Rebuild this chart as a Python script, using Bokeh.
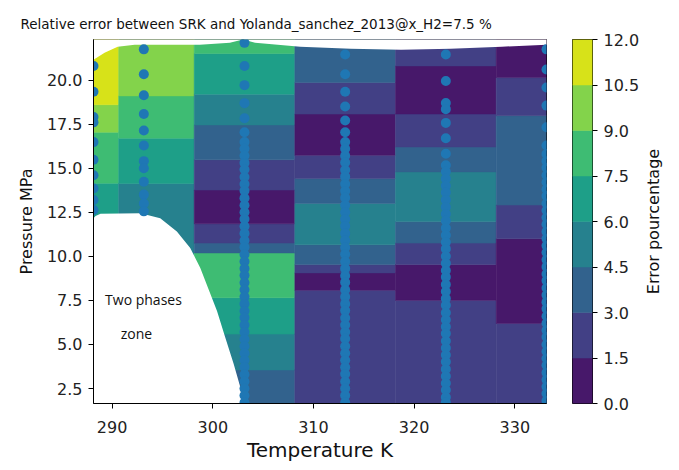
import math
import numpy as np
from bokeh.plotting import figure
from bokeh.models import ColumnDataSource, FixedTicker, Range1d, PrintfTickFormatter, Label
from bokeh.core.properties import value
from bokeh.layouts import row
from bokeh.palettes import Viridis256
from bokeh.embed import file_html
from bokeh.resources import INLINE

# ---------------- data ----------------
title_text = "Relative error between SRK and Yolanda_sanchez_2013@x_H2=7.5 %"
levels = [0.0, 1.5, 3.0, 4.5, 6.0, 7.5, 9.0, 10.5, 12.0]
x_ticks = [290, 300, 310, 320, 330]
y_ticks = [2.5, 5.0, 7.5, 10.0, 12.5, 15.0, 17.5, 20.0]

temperatures = [288.15, 293.15, 303.15, 313.15, 323.15, 333.15]
p_lo, p_hi = 1.65, 22.3

# error bands per temperature column (inner pressure boundaries, bottom -> top)
band_edges_288 = [14.15, 17.04, 18.6]
band_err_288 = [6.8, 8.3, 9.7, 11.2]
band_edges_293 = [14.13, 16.7, 19.1]
band_err_293 = [5.3, 6.9, 8.1, 9.9]
band_edges_303 = [3.55, 5.59, 7.65, 10.19, 10.75, 11.85, 13.76, 15.48, 17.45, 19.2, 21.5]
band_err_303 = [3.9, 5.2, 6.6, 8.4, 4.0, 2.4, 1.0, 2.6, 3.7, 5.0, 6.8, 7.8]
band_edges_313 = [8.07, 9.06, 9.53, 10.66, 13.0, 14.41, 15.73, 18.07, 19.86]
band_err_313 = [2.3, 0.8, 2.1, 3.6, 5.4, 4.1, 2.7, 1.1, 2.5, 3.4]
band_edges_323 = [7.5, 9.53, 10.75, 11.97, 14.79, 16.2, 18.07, 20.8]
band_err_323 = [2.2, 0.9, 2.6, 3.8, 5.5, 4.2, 2.3, 0.7, 2.0]
band_edges_333 = [6.19, 11.0, 12.91, 17.98, 20.14]
band_err_333 = [2.4, 1.2, 2.8, 3.5, 2.1, 1.0]

# measured points (pressure, MPa) per temperature
dots_288 = [20.8, 19.34, 17.9, 17.6, 16.48, 15.48, 14.6, 13.85, 13.19, 12.63]
dots_293 = [21.74, 20.33, 19.14, 18.07, 17.14, 16.29, 15.4, 15.0, 14.23, 13.5, 13.0, 12.55]
dots_303 = [22.11, 20.8, 19.71, 18.69, 17.83, 17.04, 16.48, 16.1, 15.7, 15.3, 14.92, 14.5,
            14.1, 13.72, 13.3, 12.9, 12.5, 12.12, 11.7, 11.3, 10.9, 10.52, 10.1, 9.7, 9.3,
            8.92, 8.5, 8.1, 7.7, 7.3, 6.9, 6.52, 6.1, 5.7, 5.3, 4.9, 4.5, 4.1, 3.72, 3.3,
            2.9, 2.5, 2.1, 1.7]
dots_313 = [21.45, 20.33, 19.34, 18.5, 17.7, 17.04, 16.48, 16.1, 15.7, 15.32, 14.9, 14.52,
            14.1, 13.7, 13.32, 12.9, 12.5, 12.1, 11.72, 11.3, 10.9, 10.5, 10.12, 9.7, 9.3,
            8.9, 8.52, 8.1, 7.7, 7.3, 6.92, 6.5, 6.1, 5.7, 5.32, 4.9, 4.5, 4.1, 3.7, 3.32,
            2.9, 2.5, 2.1, 1.7]
dots_323 = [21.45, 19.95, 18.7, 18.35, 17.57, 16.7, 15.82, 15.17, 14.8, 14.4, 14.0, 13.62,
            13.2, 12.8, 12.4, 12.02, 11.6, 11.2, 10.8, 10.42, 10.0, 9.6, 9.2, 8.82, 8.4, 8.0,
            7.6, 7.22, 6.8, 6.4, 6.0, 5.62, 5.2, 4.8, 4.4, 4.02, 3.6, 3.2, 2.8, 2.42, 2.0, 1.7]
dots_333 = [21.74, 20.6, 19.58, 18.55, 17.32, 16.29, 15.8, 15.4, 15.02, 14.6, 14.2, 13.8,
            13.42, 13.0, 12.6, 12.2, 11.82, 11.4, 11.0, 10.6, 10.22, 9.8, 9.4, 9.0, 8.62, 8.2,
            7.8, 7.4, 7.02, 6.6, 6.2, 5.8, 5.42, 5.0, 4.6, 4.2, 3.82, 3.4, 3.0, 2.6, 2.22, 1.8]

# upper limit of the data coverage
top_T = [288.15, 289.25, 290.55, 292.24, 298.7, 301.7, 303.0, 304.2, 308.7, 313.7, 318.7,
         323.6, 328.7, 333.15]
top_P = [21.15, 21.55, 21.89, 22.0, 22.0, 22.11, 22.3, 22.11, 21.89, 21.77, 21.72, 21.77,
         21.89, 22.0]

# two-phase envelope
env_T = [288.15, 288.35, 288.85, 292.82, 294.78, 296.43, 297.76, 298.76, 299.59, 300.42,
         301.24, 302.07, 302.73, 302.92]
env_P = [12.16, 12.28, 12.41, 12.44, 12.16, 11.41, 10.47, 9.34, 8.12, 6.9, 5.4, 3.9, 2.59, 1.66]

# ---------------- derived ----------------
level_colors = [Viridis256[int((i + 0.5) / 8 * 256)] for i in range(8)]


def color_of(v):
    k = int(np.clip(np.searchsorted(levels, v, side="right") - 1, 0, 7))
    return level_colors[k]


T_lo, T_hi = temperatures[0], temperatures[-1]
mids = [(a + b) / 2 for a, b in zip(temperatures[:-1], temperatures[1:])]
col_left = [T_lo] + mids
col_right = mids + [T_hi]

all_edges = [band_edges_288, band_edges_293, band_edges_303, band_edges_313, band_edges_323,
             band_edges_333]
all_errs = [band_err_288, band_err_293, band_err_303, band_err_313, band_err_323, band_err_333]
all_dots = [dots_288, dots_293, dots_303, dots_313, dots_323, dots_333]

q = dict(left=[], right=[], bottom=[], top=[], color=[])
for i in range(len(temperatures)):
    e = [p_lo] + all_edges[i] + [p_hi]
    for j, v in enumerate(all_errs[i]):
        q["left"].append(col_left[i])
        q["right"].append(col_right[i])
        q["bottom"].append(e[j])
        q["top"].append(e[j + 1])
        q["color"].append(color_of(v))

dx, dy = [], []
for t, ps in zip(temperatures, all_dots):
    dx += [t] * len(ps)
    dy += ps

# ---------------- main figure ----------------
p = figure(width=560, height=470, x_range=Range1d(T_lo, T_hi), y_range=Range1d(p_lo, p_hi),
           output_backend="svg", toolbar_location=None,
           min_border_left=93, min_border_right=14, min_border_top=37, min_border_bottom=67)
p.grid.visible = False
p.outline_line_color = "black"
p.outline_line_width = 1
p.outline_line_alpha = 1

p.quad(left="left", right="right", bottom="bottom", top="top", fill_color="color",
       line_color="color", line_width=0.5, source=ColumnDataSource(q))

p.patch([T_lo - 1] + top_T + [T_hi + 1, T_hi + 1, T_lo - 1],
        [top_P[0]] + top_P + [top_P[-1], p_hi + 1, p_hi + 1],
        fill_color="white", line_color=None)
p.patch([T_lo - 1] + env_T + [env_T[-1], T_lo - 1],
        [env_P[0]] + env_P + [p_lo - 1, p_lo - 1],
        fill_color="white", line_color=None)

p.scatter(dx, dy, size=10, color="#1f77b4", line_color=None)

p.add_layout(Label(x=289.3, y=7.55, text="Two phases", text_baseline="middle",
                   text_font="Open Sans", text_font_size="14px", text_color="#111111"))
p.add_layout(Label(x=290.85, y=5.6, text="zone", text_baseline="middle",
                   text_font="Open Sans", text_font_size="14px", text_color="#111111"))

p.title.text = title_text
p.title.text_font = "DejaVu Sans"
p.title.text_font_size = "13.5px"
p.title.text_font_style = "normal"
p.title.text_color = "#111111"
p.title.align = "left"
p.title.offset = -73
p.title.standoff = 15

for ax in (p.xaxis[0], p.yaxis[0]):
    ax.major_label_text_font = "DejaVu Sans"
    ax.major_label_text_font_size = "16px"
    ax.major_label_text_color = "#222222"
    ax.axis_label_text_font = "DejaVu Sans"
    ax.axis_label_text_font_style = "normal"
    ax.axis_label_text_color = "#111111"
    ax.axis_line_color = "black"
    ax.major_tick_line_color = "black"
    ax.major_tick_out = 5
    ax.major_tick_in = 0
    ax.minor_tick_out = 0
    ax.minor_tick_in = 0
    ax.major_label_standoff = 6

p.xaxis.ticker = FixedTicker(ticks=x_ticks)
p.yaxis.ticker = FixedTicker(ticks=y_ticks)
p.yaxis.formatter = PrintfTickFormatter(format="%.1f")
p.xaxis.major_label_standoff = 12
p.xaxis.axis_label = "Temperature K"
p.xaxis.axis_label_text_font_size = "20px"
p.xaxis.axis_label_standoff = 2
p.yaxis.axis_label = "Pressure MPa"
p.yaxis.axis_label_text_font_size = "16px"
p.yaxis.axis_label_standoff = 8

# ---------------- colour bar ----------------
cb = figure(width=82, height=470, x_range=Range1d(0, 1), y_range=Range1d(levels[0], levels[-1]),
            output_backend="svg", toolbar_location=None, x_axis_location=None,
            y_axis_location="right",
            min_border_left=12, min_border_right=50, min_border_top=39, min_border_bottom=65)
cb.grid.visible = False
cb.outline_line_color = "black"
cb.quad(left=0, right=1, bottom=levels[:-1], top=levels[1:], fill_color=level_colors,
        line_color=level_colors, line_width=0.5)
ya = cb.yaxis[0]
ya.ticker = FixedTicker(ticks=levels)
ya.formatter = PrintfTickFormatter(format="%.1f")
ya.major_label_text_font = "DejaVu Sans"
ya.major_label_text_font_size = "16px"
ya.major_label_text_color = "#222222"
ya.axis_line_color = None
ya.major_tick_line_color = "black"
ya.major_tick_out = 5
ya.major_tick_in = 0
ya.minor_tick_out = 0
ya.minor_tick_in = 0
ya.major_label_standoff = 6

# colour-bar label (rotated, reading upward)
lab = figure(width=37, height=470, x_range=Range1d(0, 1), y_range=Range1d(0, 1),
             output_backend="svg", toolbar_location=None, x_axis_location=None,
             y_axis_location=None, min_border_left=0, min_border_right=0,
             min_border_top=39, min_border_bottom=65)
lab.grid.visible = False
lab.outline_line_color = None
lab.text(x=[0.3], y=[0.5], text=["Error pourcentage"], angle=math.pi / 2,
         text_align="center", text_baseline="middle", text_font=value("DejaVu Sans"),
         text_font_size="16px", text_color="#111111")

layout = row(p, cb, lab)
open("out.html", "w").write(file_html(layout, INLINE))
